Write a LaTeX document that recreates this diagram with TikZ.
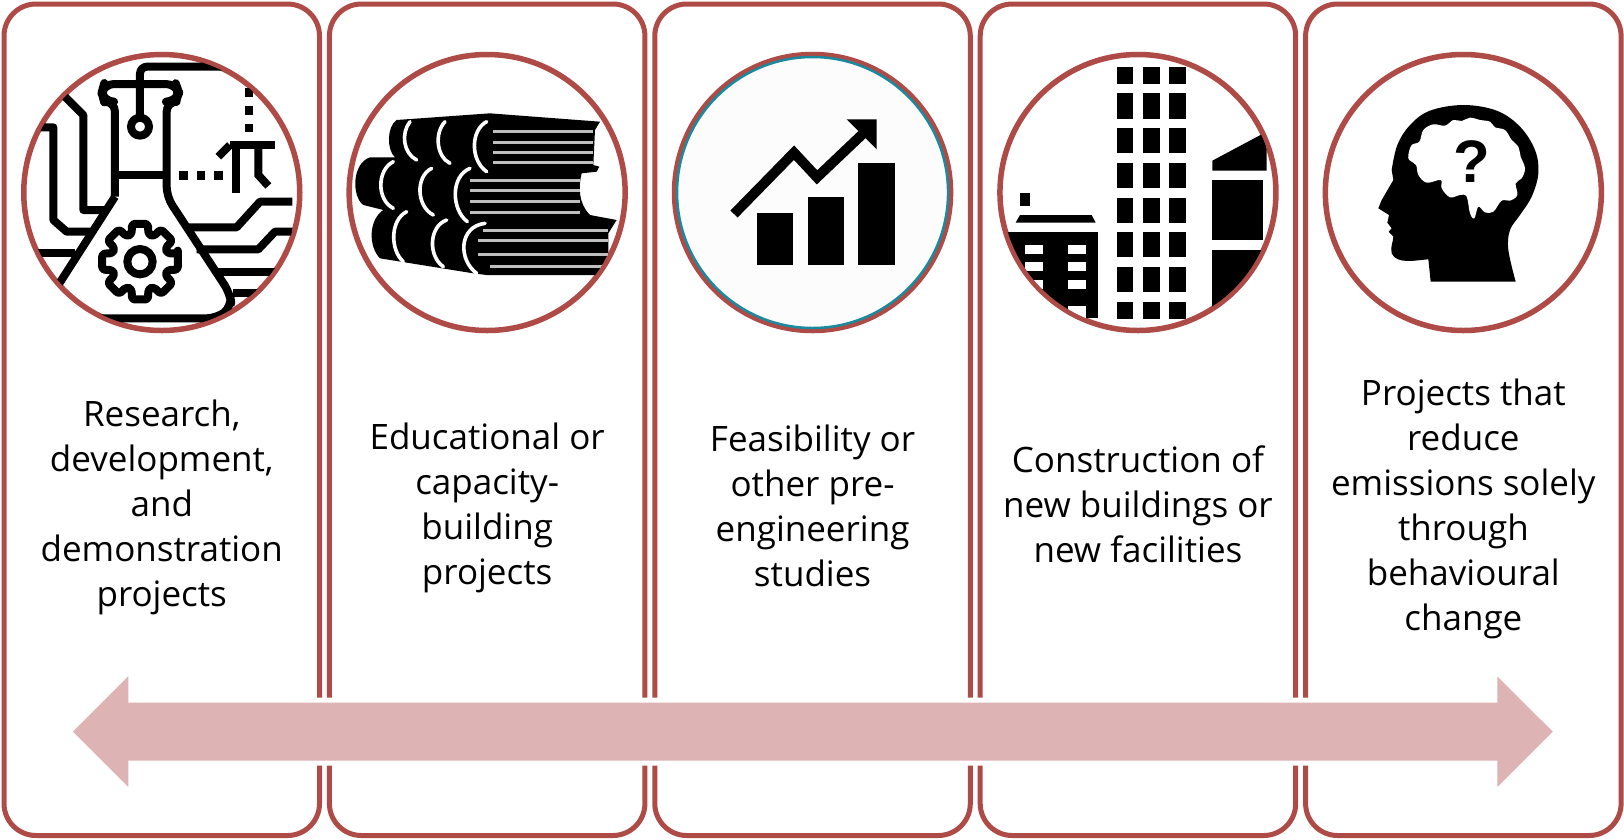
\documentclass[tikz,border=0pt]{standalone}
\usepackage{fontspec}
\usepackage{xcolor}
\usetikzlibrary{positioning}
\setmainfont{Open Sans}
\newfontfamily\queryfont{Liberation Sans}
\definecolor{panelred}{HTML}{AE4B47}
\definecolor{spanpink}{HTML}{DDB3B3}
\definecolor{ringteal}{HTML}{1A8A9E}

\begin{document}
\begin{tikzpicture}[%
  x=1pt,y=-1pt,on grid,
  panel/.style={draw=panelred,line width=5pt,rounded corners=32pt,outer sep=0pt,inner sep=0pt,minimum width=315.5pt,minimum height=831.5pt},
  ring/.style={circle,draw=panelred,line width=5.5pt,fill=white,outer sep=0pt,inner sep=0pt,minimum size=276pt},
  caption/.style={align=center,inner sep=0pt,text=black,font=\fontsize{35}{45}\selectfont},
  zoomed/.style={x=.33333pt,y=-.33333pt},
  iconline/.style={draw=black,line width=8pt,line join=round},
  fold/.style={draw=white,line width=3.6pt,line cap=round},
  leaf/.style={draw=white!75!black,line width=3pt}]
\useasboundingbox (0,0) rectangle (1624,839);

\node (panel1) [panel] at (161.75,419.75) {};
\node (panel2) [panel,right=325.4pt of panel1] {};
\node (panel3) [panel,right=325.4pt of panel2] {};
\node (panel4) [panel,right=325.4pt of panel3] {};
\node (panel5) [panel,right=325.4pt of panel4] {};

% arrow across the panels
\draw[fill=spanpink,draw=white,line width=5pt,miter limit=10]
	(69.2,731.7) -- (130.8,670.1) -- (130.8,700.2) -- (1494.8,700.2) -- (1494.8,670.1)
	-- (1556.5,731.7) -- (1494.8,793.3) -- (1494.8,763.2) -- (130.8,763.2) -- (130.8,793.3) -- cycle;

\node (ring1) [ring,above=227.25pt of panel1] {};
\node (ring2) [ring,above=227.25pt of panel2] {};
\node (ring3) [ring,above=227.25pt of panel3] {};
\node (ring4) [ring,above=227.25pt of panel4] {};
\node (ring5) [ring,above=227.25pt of panel5] {};

\node (caption1) [caption,below=315pt of ring1] {Research,\\development,\\and\\demonstration\\projects};
\node (caption2) [caption,below=315.5pt of ring2] {Educational or\\capacity-\\building\\projects};
\node (caption3) [caption,below=313.5pt of ring3] {Feasibility or\\other pre-\\engineering\\studies};
\node (caption4) [caption,below=311.5pt of ring4] {Construction of\\new buildings or\\new facilities};
\node (caption5) [caption,below=316pt of ring5] {Projects that\\reduce\\emissions solely\\through\\behavioural\\change};

% flask
\begin{scope}
\clip (ring1.center) circle (136pt);
\begin{scope}[zoomed]
	\draw[iconline,rounded corners=10pt] (345,590) -- (345,305) -- (312,305) -- (305,278) -- (312,252) -- (528,252) -- (537,278) -- (528,305) -- (500,305) -- (500,590) -- (690,880) -- (695,920) -- (650,955) -- (300,955);
	\draw[iconline] (345,590) -- (175,855);
	\draw[iconline] (345,525) -- (500,525);
	\draw[iconline] (420,380) circle (27);
	\draw[iconline,rounded corners=7pt] (420,352) -- (420,200) -- (690,200);
	\draw[line width=8pt] (690,435) -- (825,435);
	\draw[iconline,line join=miter] (655,470) -- (690,435);
	\draw[line width=8.5pt] (708,435) -- (708,578);
	\draw[iconline,line join=miter] (775,435) -- (775,525) -- (805,558);
	\foreach \yy in {278,332,384}
		\fill (734,\yy-13) rectangle (760,\yy+13);
	\foreach \xx in {550,603,655}
		\fill (\xx-13,514) rectangle (\xx+13,540);
	\draw[iconline] (195,290) -- (250,345) -- (250,630) -- (315,630);
	\draw[iconline] (110,382) -- (160,382) -- (160,660) -- (200,695) -- (270,695);
	\draw[iconline] (100,760) -- (225,760);
	\draw[iconline] (565,682) -- (710,682) -- (780,605) -- (877,605);
	\draw[iconline] (590,748) -- (775,748) -- (825,695) -- (877,695);
	\draw[iconline] (650,815) -- (840,815);
	\draw[iconline] (700,878) -- (790,878);
	\begin{scope}[shift={(420,785)}]
		\draw[iconline] (0,0) circle (38);
		\draw[iconline,rounded corners=3pt] (-12:116) \foreach \a in {0,45,...,315} { -- (\a-12:116) -- (\a+12:116) -- (\a+17:86) -- (\a+28:86) } -- cycle;
	\end{scope}
\end{scope}
\end{scope}

% books
\begin{scope}
\clip (ring2.center) circle (136pt);
\begin{scope}[shift={(330,40)},zoomed]
	\fill (200,240) -- (480,220) -- (810,245) -- (795,270) -- (790,375) -- (808,380) -- (800,395) -- (755,400)
		.. controls (745,440) and (745,490) .. (780,525) -- (860,540) -- (835,580) -- (835,640) -- (800,705) -- (470,705) -- (430,700) -- (150,655)
		.. controls (115,620) and (115,540) .. (160,510) -- (100,495)
		.. controls (65,470) and (65,370) .. (120,352) -- (195,352)
		.. controls (170,330) and (170,260) .. (200,240) -- cycle;
	\foreach \yy in {275,307,337,367}
		\draw[leaf] (490,\yy) -- (790,\yy);
	\foreach \yy in {422,452,485,517}
		\draw[leaf] (420,\yy) -- (750,\yy);
	\draw[leaf] (460,570) -- (835,570);
	\draw[leaf] (445,602) -- (835,602);
	\draw[leaf] (445,642) -- (835,642);
	\draw[leaf] (480,680) -- (835,680);
	\draw[fold] (240,245) .. controls (212,280) and (220,340) .. (260,360);
	\draw[fold] (345,245) .. controls (312,280) and (320,350) .. (360,370);
	\draw[fold] (470,245) .. controls (422,270) and (420,360) .. (470,395);
	\draw[fold] (190,365) .. controls (140,390) and (140,480) .. (190,505);
	\draw[fold] (305,385) .. controls (255,410) and (260,500) .. (310,525);
	\draw[fold] (420,385) .. controls (360,410) and (365,510) .. (412,545);
	\draw[fold] (230,515) .. controls (180,540) and (180,630) .. (220,665);
	\draw[fold] (350,540) .. controls (295,560) and (295,650) .. (340,680);
	\draw[fold] (465,550) .. controls (385,560) and (385,660) .. (440,700);
\end{scope}
\end{scope}

% chart
\node (rim3) [circle,draw=ringteal,line width=2.5pt,fill=white!99!black,outer sep=0pt,inner sep=0pt,minimum size=271pt] at (ring3.center) {};
\begin{scope}[shift={(660,40)},zoomed]
	\fill (290,520) rectangle (400,675);
	\fill (443,470) rectangle (553,675);
	\fill (595,368) rectangle (705,675);
	\draw[line width=10pt,line join=miter] (222,522) -- (402,338) -- (471,412) -- (610,280);
	\fill (560,238) -- (650,238) -- (650,328) -- cycle;
\end{scope}

% buildings
\begin{scope}
\clip (ring4.center) circle (136pt);
\begin{scope}[shift={(980,40)},zoomed]
	\foreach \xx in {410,489,567}
		\foreach \yy/\yz in {82/132,160/236,265/340,369/444,473/548,577/652,682/756,786/836}
			\fill (\xx,\yy) rectangle (\xx+50,\yz);
	\fill (120,459) rectangle (150,497);
	\fill (107,548) -- (120,525) -- (335,525) -- (347,548) -- cycle;
	\fill (60,577) rectangle (355,835);
	\foreach \xx in {135,265}
		\foreach \yy in {615,667,719}
			\fill[white] (\xx,\yy) rectangle (\xx+53,\yy+27);
	\fill[white] (265,797) rectangle (318,835);
	\fill (697,362) -- (860,275) -- (860,392) -- (697,392) -- cycle;
	\fill (697,421) rectangle (850,601);
	\fill (697,630) rectangle (860,850);
\end{scope}
\end{scope}

% head
\begin{scope}[shift={(1310,40)},zoomed]
	\fill (362,725) -- (355,658) .. controls (320,660) and (260,675) .. (245,640) .. controls (240,620) and (250,605) .. (250,590) -- (236,575) -- (245,565) -- (232,548) -- (237,525) -- (205,505) -- (215,480) -- (250,420) -- (245,390)
		-- plot[smooth,tension=.6] coordinates {(245,390) (262,315) (300,255) (360,212) (460,195) (560,212) (630,260) (675,330) (685,400) (665,470) (630,525) (600,570) (595,630) (617,725)} -- cycle;
	\fill[white] plot[smooth cycle,tension=.6] coordinates {(295,345) (305,315) (328,305) (340,270) (370,253) (405,257) (430,240) (455,243) (480,233) (510,240) (540,245) (555,262) (585,270) (605,300) (625,320) (632,350) (645,385) (635,415) (617,430) (622,465) (600,482) (575,482) (550,515) (525,517) (505,500) (493,535) (480,520) (470,470) (450,465) (420,472) (395,445) (392,420) (350,428) (325,405) (318,375) (298,360)};
	\node (query) [inner sep=0pt,font=\queryfont\fontsize{60}{60}\selectfont\bfseries] at (485,366) {?};
\end{scope}
\end{tikzpicture}
\end{document}
